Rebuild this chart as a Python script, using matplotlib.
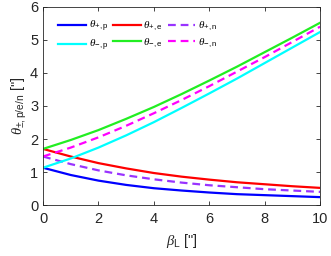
import matplotlib
matplotlib.use("Agg")
import matplotlib.pyplot as plt

beta = [0, 1, 2, 3, 4, 5, 6, 7, 8, 9, 10]
theta_plus_p = [1.13, 0.91, 0.74, 0.61, 0.51, 0.44, 0.38, 0.33, 0.30, 0.27, 0.24]
theta_minus_p = [1.13, 1.41, 1.74, 2.11, 2.51, 2.94, 3.38, 3.83, 4.30, 4.77, 5.24]
theta_plus_e = [1.70, 1.47, 1.27, 1.11, 0.97, 0.86, 0.77, 0.69, 0.63, 0.57, 0.52]
theta_minus_e = [1.70, 1.97, 2.27, 2.61, 2.97, 3.36, 3.77, 4.19, 4.63, 5.07, 5.52]
theta_plus_n = [1.47, 1.24, 1.05, 0.90, 0.78, 0.68, 0.60, 0.54, 0.48, 0.44, 0.40]
theta_minus_n = [1.47, 1.74, 2.05, 2.40, 2.78, 3.18, 3.60, 4.04, 4.48, 4.94, 5.40]
x_ticks = [0, 2, 4, 6, 8, 10]
y_ticks = [0, 1, 2, 3, 4, 5, 6]

plt.rcParams['font.family'] = ['Liberation Sans', 'DejaVu Sans']
plt.rcParams['mathtext.fontset'] = 'custom'
plt.rcParams['mathtext.rm'] = 'Liberation Sans'
plt.rcParams['mathtext.it'] = 'Liberation Serif:italic'

fig = plt.figure(figsize=(3.31, 2.56), dpi=100)
ax = fig.add_axes([0.130, 0.199, 0.837, 0.774])

lw = 1.6
dash = (0, (3.5, 2.2))
h1, = ax.plot(beta, theta_plus_p, color='#0000ff', lw=lw)
h2, = ax.plot(beta, theta_plus_e, color='#ff0000', lw=lw)
h3, = ax.plot(beta, theta_plus_n, color='#9933ff', lw=lw, linestyle=dash)
h4, = ax.plot(beta, theta_minus_p, color='#00ffff', lw=lw)
h5, = ax.plot(beta, theta_minus_e, color='#22ee22', lw=lw)
h6, = ax.plot(beta, theta_minus_n, color='#ff00ff', lw=lw, linestyle=dash)

ax.set_xlim(0, 10)
ax.set_ylim(0, 6)
ax.set_xticks(x_ticks)
ax.set_yticks(y_ticks)
ax.tick_params(direction='in', top=True, right=True, labelsize=10.5, length=3,
               colors='#262626', width=0.6)
ax.tick_params(axis='x', pad=5)
for s in ax.spines.values():
    s.set_color('#262626')
    s.set_linewidth(0.6)

ax.set_xlabel(r'$\beta_{\mathrm{L}}$ ["]', fontsize=10.5, color='#262626', labelpad=4)
ax.set_ylabel(r'$\theta_{\pm\mathrm{,p/e/n}}$ ["]', fontsize=10.5, color='#262626', labelpad=1)

handles = [h1, h4, h2, h5, h3, h6]
labels = [r'$\theta_{\mathrm{+,p}}$', r'$\theta_{\mathrm{-,p}}$',
          r'$\theta_{\mathrm{+,e}}$', r'$\theta_{\mathrm{-,e}}$',
          r'$\theta_{\mathrm{+,n}}$', r'$\theta_{\mathrm{-,n}}$']
ax.legend(handles, labels, ncol=3, loc='upper left', frameon=False, fontsize=8,
          handlelength=2.5, columnspacing=0.45, handletextpad=0.25,
          labelspacing=0.35, borderaxespad=0.0, borderpad=0.0,
          bbox_to_anchor=(0.054, 0.94))

fig.savefig('out.png', dpi=100)
